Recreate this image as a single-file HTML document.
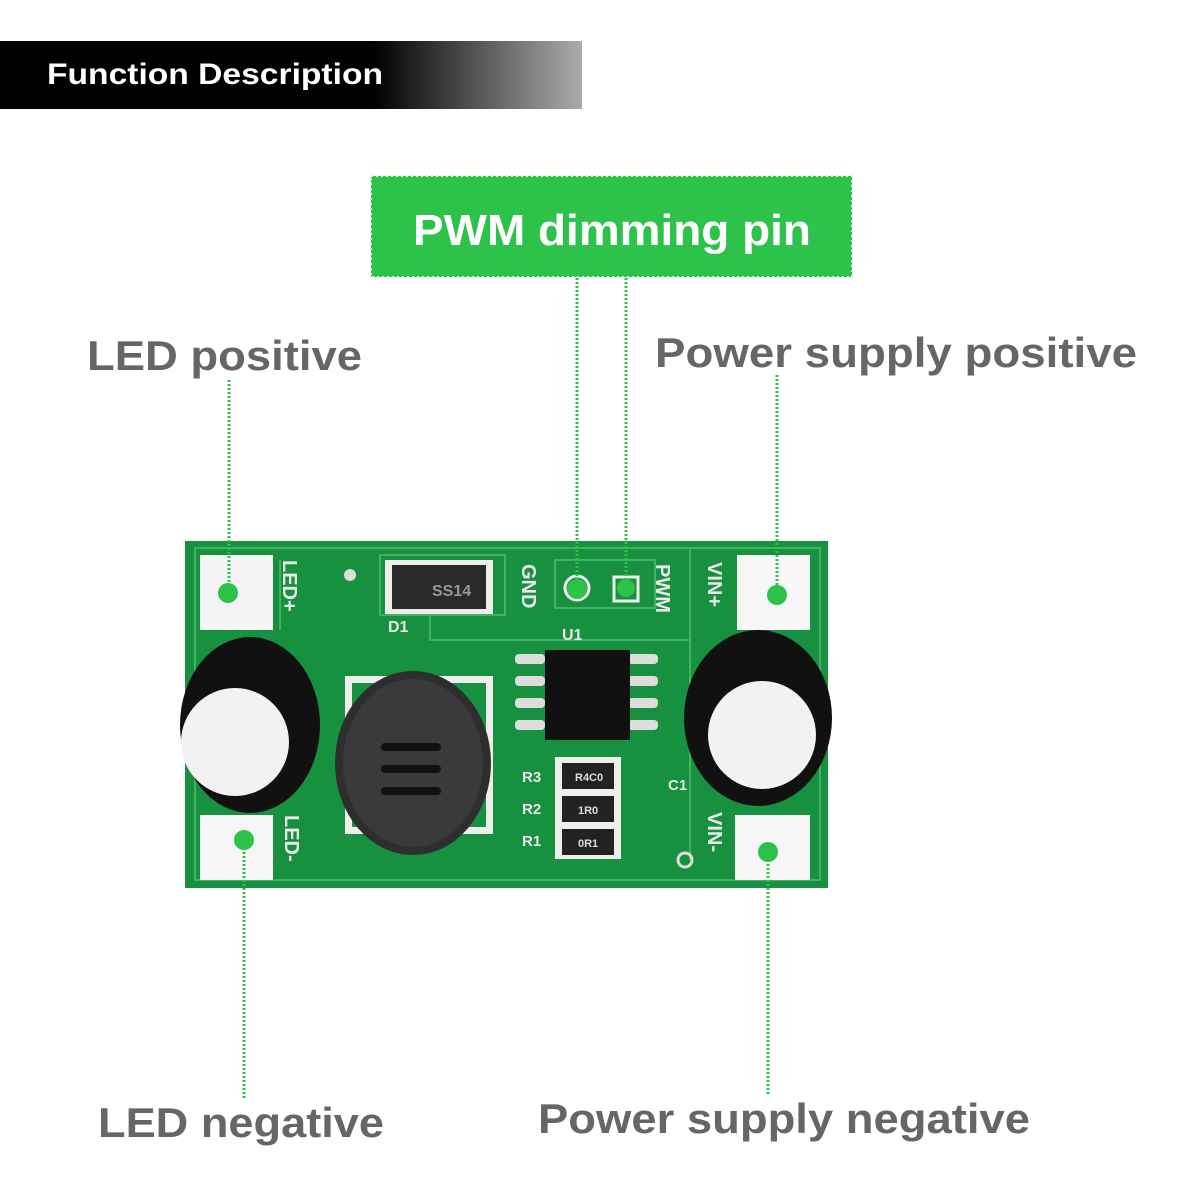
<!DOCTYPE html>
<html><head><meta charset="utf-8"><style>
html,body{margin:0;padding:0;background:#fff}
svg{display:block}
text{font-family:"Liberation Sans",sans-serif;font-weight:bold}
</style></head><body>
<svg width="1200" height="1200" viewBox="0 0 1200 1200" xmlns="http://www.w3.org/2000/svg">
<defs>
<linearGradient id="hg" x1="0" x2="1" y1="0" y2="0">
<stop offset="0" stop-color="#000"/><stop offset="0.64" stop-color="#000"/><stop offset="1" stop-color="#ababab"/>
</linearGradient>
</defs>
<rect x="0" y="41" width="582" height="68" fill="url(#hg)"/>
<text x="47" y="84" font-size="30" fill="#fff" textLength="336" lengthAdjust="spacingAndGlyphs">Function Description</text>

<rect x="371" y="176" width="481" height="101" fill="#2dc24a" stroke="#d8f5dd" stroke-width="2" stroke-dasharray="2 3"/>
<text x="413" y="245" font-size="44" fill="#fff" textLength="398" lengthAdjust="spacingAndGlyphs">PWM dimming pin</text>

<g fill="#666" font-size="42">
<text x="87" y="370" textLength="275" lengthAdjust="spacingAndGlyphs">LED positive</text>
<text x="655" y="367" textLength="482" lengthAdjust="spacingAndGlyphs">Power supply positive</text>
<text x="98" y="1137" textLength="286" lengthAdjust="spacingAndGlyphs">LED negative</text>
<text x="538" y="1133" textLength="492" lengthAdjust="spacingAndGlyphs">Power supply negative</text>
</g>

<!-- board -->
<rect x="185" y="541" width="643" height="347" fill="#17913f"/>
<g fill="none" stroke="#3fb362" stroke-width="2">
<path d="M195 548 H820 V880 H195 Z"/>
<path d="M380 555 H505 V615 H380 Z"/>
<path d="M430 615 V640 H690 V548"/>
<path d="M555 560 H655 V608 H555 Z"/>
<path d="M280 560 V630 M690 640 V860"/>
</g>
<rect x="200" y="555" width="73" height="75" fill="#f4f4f4"/>
<rect x="737" y="555" width="73" height="75" fill="#f7f7f7"/>
<rect x="200" y="815" width="73" height="65" fill="#f7f7f7"/>
<rect x="735" y="815" width="75" height="65" fill="#f7f7f7"/>
<circle cx="350" cy="575" r="6" fill="#ddd"/>
<circle cx="685" cy="860" r="7" fill="none" stroke="#ddd" stroke-width="3"/>
<g fill="#e8e8e8" font-size="20">
<text transform="translate(283,560) rotate(90)">LED+</text>
<text transform="translate(708,562) rotate(90)">VIN+</text>
<text transform="translate(708,812) rotate(90)">VIN-</text>
<text transform="translate(285,815) rotate(90)">LED-</text>
<text transform="translate(522,564) rotate(90)">GND</text>
<text transform="translate(656,564) rotate(90)">PWM</text>
<text x="562" y="640" font-size="16">U1</text>
<text x="388" y="632" font-size="16">D1</text>
<text x="522" y="782" font-size="15">R3</text>
<text x="522" y="814" font-size="15">R2</text>
<text x="522" y="846" font-size="15">R1</text>
<text x="668" y="790" font-size="15">C1</text>
</g>
<rect x="385" y="560" width="108" height="54" fill="#eee"/>
<rect x="392" y="565" width="94" height="44" fill="#2a2a2a"/>
<text x="432" y="596" font-size="16" fill="#999" font-weight="normal">SS14</text>
<circle cx="577" cy="588" r="12" fill="none" stroke="#eee" stroke-width="3"/>
<rect x="614" y="577" width="24" height="24" fill="none" stroke="#eee" stroke-width="3"/>
<g fill="#ddd">
<rect x="515" y="654" width="30" height="10" rx="4"/><rect x="515" y="676" width="30" height="10" rx="4"/>
<rect x="515" y="698" width="30" height="10" rx="4"/><rect x="515" y="720" width="30" height="10" rx="4"/>
<rect x="628" y="654" width="30" height="10" rx="4"/><rect x="628" y="676" width="30" height="10" rx="4"/>
<rect x="628" y="698" width="30" height="10" rx="4"/><rect x="628" y="720" width="30" height="10" rx="4"/>
</g>
<rect x="545" y="650" width="85" height="90" fill="#111"/>
<rect x="555" y="757" width="66" height="102" fill="#eee"/>
<rect x="562" y="763" width="52" height="26" fill="#222"/>
<rect x="562" y="796" width="52" height="26" fill="#222"/>
<rect x="562" y="829" width="52" height="26" fill="#222"/>
<g fill="#ddd" font-size="11" font-weight="normal"><text x="575" y="781">R4C0</text><text x="578" y="814">1R0</text><text x="578" y="847">0R1</text></g>
<rect x="345" y="676" width="148" height="158" fill="#eee"/>
<rect x="352" y="683" width="134" height="144" fill="#17913f"/>
<ellipse cx="413" cy="763" rx="78" ry="92" fill="#2e2e2e"/>
<ellipse cx="413" cy="763" rx="70" ry="84" fill="#3a3a3a"/>
<g stroke="#111" stroke-width="8" stroke-linecap="round"><path d="M385 747 H437 M385 769 H437 M385 791 H437"/></g>
<ellipse cx="250" cy="725" rx="70" ry="88" fill="#111"/>
<circle cx="235" cy="742" r="54" fill="#f2f2f2"/>
<ellipse cx="758" cy="718" rx="74" ry="88" fill="#111"/>
<circle cx="762" cy="735" r="54" fill="#f2f2f2"/>
<g stroke="#2dc24a" stroke-width="3" stroke-dasharray="2 2" fill="none">
<path d="M229 380 V593"/><path d="M577 278 V590"/><path d="M626 278 V588"/>
<path d="M777 375 V595"/><path d="M244 840 V1100"/><path d="M768 852 V1095"/>
</g>
<g fill="#2dc24a">
<circle cx="228" cy="593" r="10"/><circle cx="577" cy="589" r="10"/><circle cx="626" cy="588" r="9"/>
<circle cx="777" cy="595" r="10"/><circle cx="244" cy="840" r="10"/><circle cx="768" cy="852" r="10"/>
</g>
</svg>
</body></html>
